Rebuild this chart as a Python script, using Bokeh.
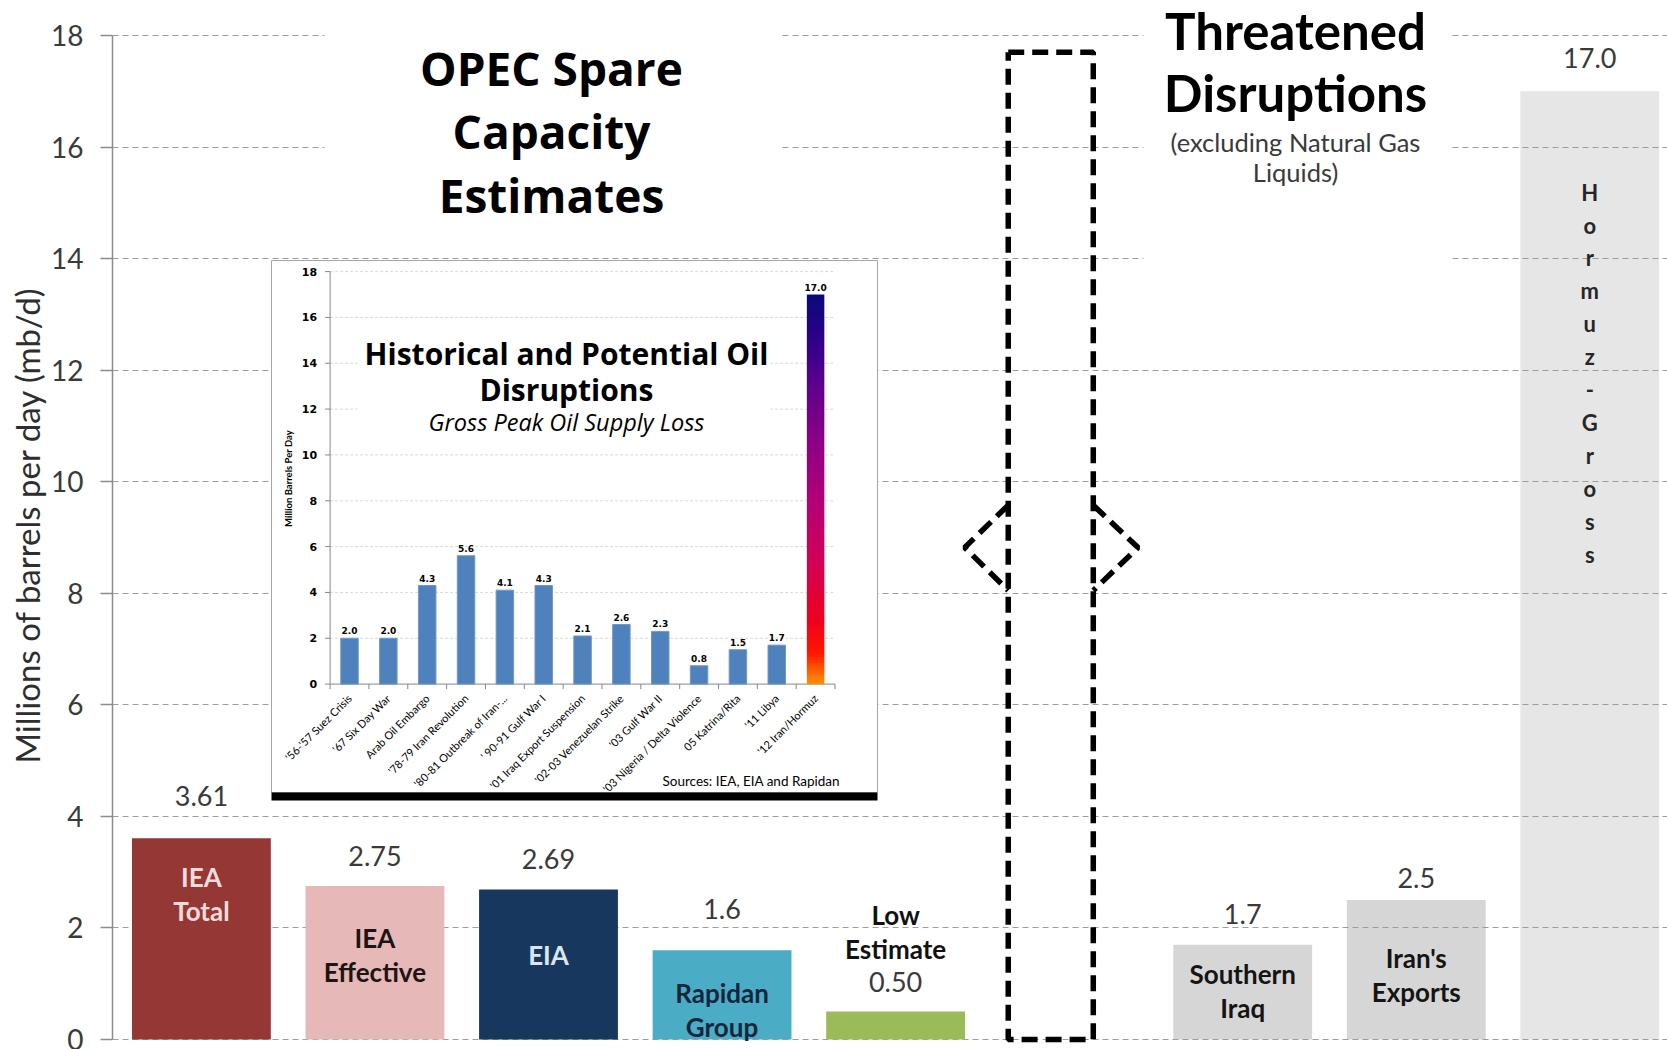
import numpy as np
from bokeh.plotting import figure
from bokeh.models import Range1d, FixedTicker, ColumnDataSource, LinearColorMapper
from bokeh.core.properties import value
from bokeh.embed import file_html
from bokeh.resources import INLINE

# ---------------- data ----------------
opec_names = ["IEA\nTotal", "IEA\nEffective", "EIA", "Rapidan\nGroup", "Low\nEstimate"]
opec_values = [3.61, 2.75, 2.69, 1.6, 0.50]
opec_value_labels = ["3.61", "2.75", "2.69", "1.6", "0.50"]
opec_slots = [1, 2, 3, 4, 5]

threat_names = ["Southern\nIraq", "Iran's\nExports"]
threat_values = [1.7, 2.5]
threat_value_labels = ["1.7", "2.5"]
threat_slots = [7, 8]

hormuz_name = "Hormuz-Gross"
hormuz_value = 17.0
hormuz_value_label = "17.0"
hormuz_slot = 9

y_ticks = [0, 2, 4, 6, 8, 10, 12, 14, 16, 18]

hist_events = ["'56-'57 Suez Crisis", "'67 Six Day War", "Arab Oil Embargo",
               "'78-79 Iran Revolution", "'80-81 Outbreak of Iran-...", "' 90-91 Gulf War I",
               "'01 Iraq Export Suspension", "'02-03 Venezuelan Strike", "'03 Gulf War II",
               "'03 Nigeria / Delta Violence", "05 Katrina/Rita", "'11 Libya", "'12 Iran/Hormuz"]
hist_values = [2.0, 2.0, 4.3, 5.6, 4.1, 4.3, 2.1, 2.6, 2.3, 0.8, 1.5, 1.7, 17.0]
inset_ticks = [0, 2, 4, 6, 8, 10, 12, 14, 16, 18]

# ---------------- styles ----------------
opec_colors = ["#953735", "#E6B9B8", "#17375E", "#4BACC6", "#9BBB59"]
opec_name_colors = ["#F2DCDB", "#1E1414", "#DCE6F2", "#14263C", "#111111"]
opec_name_dy = [56, 69, 66, 60, -80]        # px from bar top (down positive)
opec_value_dy = [-42, -30, -30, -41, -30]
threat_colors = ["#D6D6D6", "#D6D6D6"]
threat_name_dy = [46, 75]
threat_value_dy = [-31, -22]
hormuz_color = "#E6E6E6"
TXT = "#3A3A3A"
GRID = "#9C9C9C"

# ---------------- geometry (pixels) ----------------
W, H = 1667, 1049
FRAME_LEFT = 112
Y0_PX, Y18_PX = 1039.0, 35.0
PPU = (Y0_PX - Y18_PX) / 18.0
SLOT1_PX, SLOT_STEP = 200.9, 173.55
# inset geometry
IX0_PX, IX_STEP = 329.6, 38.84
IY0_PX, IY18_PX = 683.6, 271.1
IPPU = (IY0_PX - IY18_PX) / 18.0

x_range = Range1d(1 + (FRAME_LEFT - SLOT1_PX) / SLOT_STEP, 1 + (W - SLOT1_PX) / SLOT_STEP)
y_range = Range1d(-(H - Y0_PX) / PPU, Y0_PX / PPU)

p = figure(width=W, height=H, x_range=x_range, y_range=y_range,
           output_backend="svg", toolbar_location=None, x_axis_location=None,
           min_border_left=FRAME_LEFT, min_border_right=0, min_border_top=0, min_border_bottom=0,
           outline_line_color=None, background_fill_color="white", border_fill_color="white")

p.extra_x_ranges = {"ix": Range1d((FRAME_LEFT - IX0_PX) / IX_STEP, (W - IX0_PX) / IX_STEP),
                    "px": Range1d(FRAME_LEFT, W)}
p.extra_y_ranges = {"iy": Range1d(-(H - IY0_PX) / IPPU, IY0_PX / IPPU),
                    "px": Range1d(H, 0)}

# axis + grid
p.yaxis.ticker = FixedTicker(ticks=y_ticks)
p.yaxis.bounds = (0, 18)
p.yaxis.axis_line_color = "#8C8C8C"
p.yaxis.axis_line_width = 1.5
p.yaxis.major_tick_line_color = "#8C8C8C"
p.yaxis.major_tick_line_width = 1.5
p.yaxis.major_tick_out = 12
p.yaxis.major_tick_in = 0
p.yaxis.minor_tick_line_color = None
p.yaxis.major_label_text_font = "Lato"
p.yaxis.major_label_text_font_size = "28px"
p.yaxis.major_label_text_color = TXT
p.yaxis.major_label_standoff = 17
p.yaxis.axis_label = "Millions of barrels per day (mb/d)"
p.yaxis.axis_label_text_font = "Lato"
p.yaxis.axis_label_text_font_size = "33px"
p.yaxis.axis_label_text_font_style = "normal"
p.yaxis.axis_label_text_color = "#2E2E2E"
p.yaxis.axis_label_standoff = 1
p.xgrid.visible = False
p.ygrid.ticker = FixedTicker(ticks=y_ticks)
p.ygrid.grid_line_color = GRID
p.ygrid.grid_line_dash = "6 4"
p.ygrid.grid_line_width = 1.2

PXR = dict(x_range_name="px", y_range_name="px")
INR = dict(x_range_name="ix", y_range_name="iy")

# threatened bars drawn beneath the grid (grid shows through)
p.vbar(x=threat_slots, top=threat_values, width=0.8, fill_color=threat_colors,
       line_color=None, level="image")
p.vbar(x=[hormuz_slot], top=[hormuz_value], width=0.8, fill_color=hormuz_color,
       line_color=None, level="image")

# white masks behind the titles
p.quad(left=[324, 1143], right=[781, 1451], top=[0, 0], bottom=[225, 275],
       fill_color="white", line_color=None, **PXR)

# ---------------- inset ----------------
p.quad(left=[271], right=[877], top=[260], bottom=[792], fill_color="white",
       line_color="#A6A6A6", line_width=1, **PXR)
p.quad(left=[271], right=[877], top=[792], bottom=[800], fill_color="black",
       line_color=None, **PXR)
n = len(hist_values)
# inset grid
gy = [t for t in inset_ticks if t > 0]
p.segment(x0=[0] * len(gy), x1=[n] * len(gy), y0=gy, y1=gy, line_color="#D9D9D9",
          line_dash="3 2", line_width=1, **INR)
# title mask + titles
p.quad(left=[357], right=[770], top=[330], bottom=[440], fill_color="white",
       line_color=None, **PXR)
p.text(x=[566], y=[371], text=["Historical and Potential Oil\nDisruptions"],
       text_font=value("Open Sans"), text_font_style="bold", text_font_size="30px",
       text_line_height=0.9, text_align="center", text_baseline="middle",
       text_color="black", **PXR)
p.text(x=[566], y=[421], text=["Gross Peak Oil Supply Loss"],
       text_font=value("Open Sans"), text_font_style="italic", text_font_size="23.5px",
       text_align="center", text_baseline="middle", text_color="black", **PXR)
# axes of inset
p.segment(x0=[0, 0], x1=[0, n], y0=[0, 0], y1=[18, 0], line_color="#868686",
          line_width=1, **INR)
tick_w = 5 / IX_STEP
p.segment(x0=[-tick_w] * len(inset_ticks), x1=[0] * len(inset_ticks), y0=inset_ticks,
          y1=inset_ticks, line_color="#868686", line_width=1, **INR)
tick_h = 5 / IPPU
bx = list(range(n + 1))
p.segment(x0=bx, x1=bx, y0=[0] * len(bx), y1=[-tick_h] * len(bx), line_color="#868686",
          line_width=1, **INR)
p.text(x=[0] * len(inset_ticks), y=inset_ticks, text=[str(t) for t in inset_ticks],
       x_offset=-13, text_align="right", text_baseline="middle",
       text_font=value("DejaVu Sans"), text_font_style="bold", text_font_size="11px",
       text_color="black", **INR)
p.text(x=[288], y=[478], text=["Million Barrels Per Day"], angle=np.pi / 2,
       text_align="center", text_baseline="middle", text_font=value("Lato"),
       text_font_style="bold", text_font_size="9.5px", text_color="black", **PXR)
# inset bars
hx = [i + 0.5 for i in range(n)]
p.vbar(x=hx[:-1], top=hist_values[:-1], width=0.45, fill_color="#4F81BD",
       line_color="#6F97C8", line_width=1, **INR)
# gradient bar (last event)
stops = [(0.0, (255, 140, 0)), (0.08, (255, 20, 0)), (0.16, (240, 0, 30)),
         (0.32, (208, 0, 90)), (0.48, (176, 0, 120)), (0.62, (140, 0, 134)),
         (0.76, (96, 0, 140)), (0.88, (48, 0, 138)), (1.0, (10, 10, 120))]
pal = []
for k in range(256):
    f = k / 255
    for (a, ca), (b, cb) in zip(stops[:-1], stops[1:]):
        if a <= f <= b:
            t = (f - a) / (b - a)
            c = [int(round(ca[j] + (cb[j] - ca[j]) * t)) for j in range(3)]
            pal.append("#%02x%02x%02x" % tuple(c))
            break
grad = np.linspace(0, 1, 200).reshape(200, 1)
p.image(image=[grad], x=hx[-1] - 0.225, y=0, dw=0.45, dh=hist_values[-1],
        color_mapper=LinearColorMapper(palette=pal, low=0, high=1), **INR)
p.text(x=hx, y=hist_values, text=["%.1f" % v for v in hist_values], y_offset=-4,
       text_align="center", text_baseline="bottom", text_font=value("DejaVu Sans"),
       text_font_style="bold", text_font_size="9px", text_color="black", **INR)
p.text(x=hx, y=[0] * n, text=hist_events, x_offset=0, y_offset=12, angle=np.pi / 4,
       text_align="right", text_baseline="middle", text_font=value("Lato"),
       text_font_size="11px", text_color="black", **INR)
p.text(x=[843], y=[780], text=["Sources:  IEA, EIA and Rapidan"], text_align="right",
       text_baseline="middle", text_font=value("Lato"), text_font_size="13.5px",
       text_color="black", **PXR)

# ---------------- main titles ----------------
p.text(x=[551], y=[131], text=["OPEC Spare\nCapacity\nEstimates"], text_align="center",
       text_baseline="middle", text_font=value("Open Sans"), text_font_style="bold",
       text_font_size="46px", text_line_height=1.02, text_color="black", **PXR)
p.text(x=[1295], y=[61], text=["Threatened\nDisruptions"], text_align="center",
       text_baseline="middle", text_font=value("Lato"), text_font_style="bold",
       text_font_size="51px", text_line_height=1.03, text_color="black", **PXR)
p.text(x=[1295], y=[156.5], text=["(excluding Natural Gas\nLiquids)"], text_align="center",
       text_baseline="middle", text_font=value("Lato"), text_font_size="25.5px",
       text_line_height=1.02, text_color=TXT, **PXR)

# ---------------- main bars ----------------
p.vbar(x=opec_slots, top=opec_values, width=0.8, fill_color=opec_colors, line_color=None)

src_val = ColumnDataSource(dict(
    x=opec_slots + threat_slots + [hormuz_slot],
    y=opec_values + threat_values + [hormuz_value],
    t=opec_value_labels + threat_value_labels + [hormuz_value_label],
    dy=opec_value_dy + threat_value_dy + [-33]))
p.text(x="x", y="y", text="t", y_offset="dy", source=src_val, text_align="center",
       text_baseline="middle", text_font=value("Lato"), text_font_size="27px",
       text_color=TXT)

src_name = ColumnDataSource(dict(
    x=opec_slots + threat_slots, y=opec_values + threat_values,
    t=opec_names + threat_names, dy=opec_name_dy + threat_name_dy,
    c=opec_name_colors + ["#141414", "#141414"]))
p.text(x="x", y="y", text="t", y_offset="dy", text_color="c", source=src_name,
       text_align="center", text_baseline="middle", text_font=value("Lato"),
       text_font_style="bold", text_font_size="26px", text_line_height=1.06)

p.text(x=[hormuz_slot], y=[hormuz_value], text=["\n".join(hormuz_name)], y_offset=282,
       text_align="center", text_baseline="middle", text_font=value("Lato"),
       text_font_style="bold", text_font_size="22px", text_line_height=1.22,
       text_color="#262626")

# dashed double-headed marker between the two groups
arrow_xs = [[5.649, 6.139, 6.139, 5.649, 5.649],
            [5.649, 5.398, 5.649], [6.139, 6.397, 6.139]]
arrow_ys = [[17.70, 17.70, 0.0, 0.0, 17.70],
            [9.58, 8.82, 8.05], [9.58, 8.82, 8.05]]
p.multi_line(xs=arrow_xs, ys=arrow_ys, line_color="black", line_width=5.5,
             line_dash="16 8")

open("out.html", "w").write(file_html(p, INLINE))
